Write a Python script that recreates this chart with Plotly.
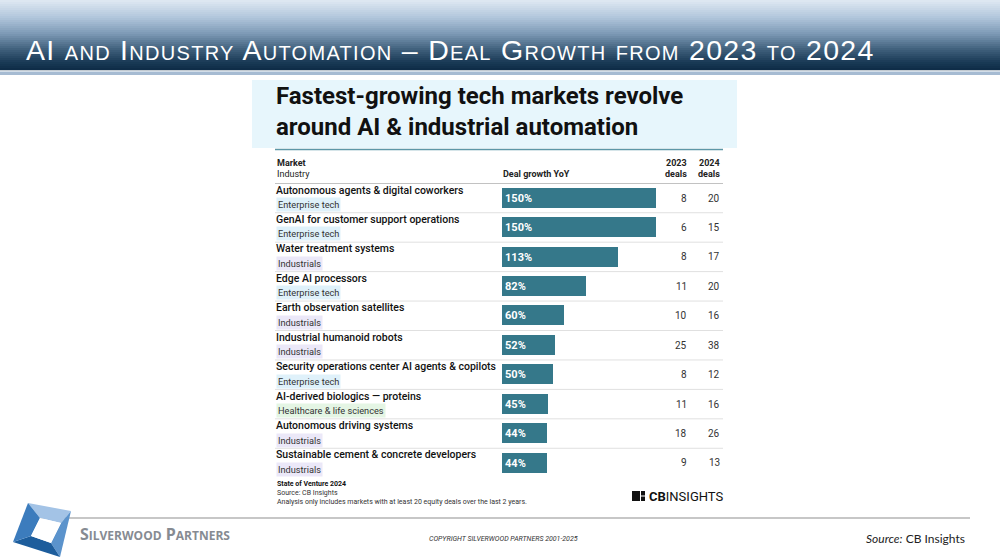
import plotly.graph_objects as go

W, H = 1000, 560

# ---------------- data ----------------
markets = [
    "Autonomous agents & digital coworkers",
    "GenAI for customer support operations",
    "Water treatment systems",
    "Edge AI processors",
    "Earth observation satellites",
    "Industrial humanoid robots",
    "Security operations center AI agents & copilots",
    "AI-derived biologics — proteins",
    "Autonomous driving systems",
    "Sustainable cement & concrete developers",
]
industries = [
    "Enterprise tech", "Enterprise tech", "Industrials", "Enterprise tech",
    "Industrials", "Industrials", "Enterprise tech", "Healthcare & life sciences",
    "Industrials", "Industrials",
]
growth_pct = [150, 150, 113, 82, 60, 52, 50, 45, 44, 44]
deals_2023 = [8, 6, 8, 11, 10, 25, 8, 11, 18, 9]
deals_2024 = [20, 15, 17, 20, 16, 38, 12, 16, 26, 13]

tag_colors = {
    "Enterprise tech": "#dff1fa",
    "Industrials": "#ebe8f8",
    "Healthcare & life sciences": "#e4f5e4",
}

def py(ypx):
    return 1 - ypx / H

def px(xpx):
    return xpx / W

n = len(markets)
rows = list(range(n))
row_top, row_bot = 183.3, 477.7

fig = go.Figure()
fig.add_trace(go.Bar(
    x=growth_pct, y=rows, orientation="h",
    marker=dict(color="#35788a", line=dict(width=0)),
    width=0.68,
    text=[f"{v}%" for v in growth_pct],
    textposition="inside", insidetextanchor="start",
    textfont=dict(family="Roboto", size=11, color="white", weight=700),
    hoverinfo="skip", cliponaxis=False,
))

shapes = []
annotations = []

# ---------------- header gradient ----------------
stops = [(0, (224, 233, 243)), (18, (176, 197, 219)), (34, (124, 153, 181)),
         (50, (62, 94, 122)), (62, (26, 59, 86)), (70, (14, 44, 70))]

def col_at(y):
    for (y0, c0), (y1, c1) in zip(stops[:-1], stops[1:]):
        if y0 <= y <= y1:
            t = (y - y0) / (y1 - y0)
            return "rgb(%d,%d,%d)" % tuple(int(c0[k] + (c1[k] - c0[k]) * t) for k in range(3))
    return "rgb(14,44,70)"

for y in range(0, 70, 2):
    shapes.append(dict(type="rect", xref="paper", yref="paper", x0=0, x1=1,
                       y0=py(y + 2.2), y1=py(y), fillcolor=col_at(y + 1),
                       line=dict(width=0), layer="below"))
shapes.append(dict(type="rect", xref="paper", yref="paper", x0=0, x1=1,
                   y0=py(75), y1=py(71.5), fillcolor="#a6bbd2", line=dict(width=0)))

big, small = 28.5, 20
def sc(first, rest):
    return f"{first}<span style='font-size:{small}px'>{rest}</span>"
title_html = (f"<span style='letter-spacing:1.3px'>AI <span style='font-size:{small}px'>AND</span> " +
              sc("I", "NDUSTRY") + " " +
              sc("A", "UTOMATION") + " – " + sc("D", "EAL") + " " + sc("G", "ROWTH") +
              f" <span style='font-size:{small}px'>FROM</span> 2023 "
              f"<span style='font-size:{small}px'>TO</span> 2024</span>")
annotations.append(dict(text=title_html, xref="paper", yref="paper", x=px(24), y=py(50),
                        xanchor="left", yanchor="middle", showarrow=False,
                        font=dict(family="Liberation Sans, Arial, sans-serif",
                                  size=big, color="white")))

# ---------------- chart panel ----------------
shapes.append(dict(type="rect", xref="paper", yref="paper", x0=px(252), x1=px(737),
                   y0=py(148), y1=py(80), fillcolor="#e7f6fc", line=dict(width=0), layer="below"))
annotations.append(dict(text="Fastest-growing tech markets revolve<br>around AI & industrial automation",
                        xref="paper", yref="paper", x=px(274), y=py(111.5), xanchor="left",
                        yanchor="middle", align="left", showarrow=False,
                        font=dict(family="Roboto", size=24, color="#111", weight=700)))
shapes.append(dict(type="line", xref="paper", yref="paper", x0=px(275), x1=px(723),
                   y0=py(149.5), y1=py(149.5), line=dict(color="#5d97a7", width=1.5)))

def txt(t, x, y, anchor="left", bold=False, size=9, color="#222", italic=False, family="Roboto"):
    annotations.append(dict(text=t, xref="paper", yref="paper", x=px(x), y=py(y),
                            xanchor=anchor, yanchor="middle", showarrow=False,
                            font=dict(family=family, size=size, color=color,
                                      weight=700 if bold else 400,
                                      style="italic" if italic else "normal")))

txt("Market", 275, 163, bold=True)
txt("Industry", 275, 174)
txt("Deal growth YoY", 501, 174, bold=True)
txt("2023", 689, 163, anchor="right", bold=True)
txt("deals", 689, 174, anchor="right", bold=True)
txt("2024", 722, 163, anchor="right", bold=True)
txt("deals", 722, 174, anchor="right", bold=True)

shapes.append(dict(type="line", xref="paper", yref="y", x0=px(275), x1=px(723),
                   y0=-0.5, y1=-0.5, line=dict(color="#9a9a9a", width=1)))
for i in rows[:-1]:
    shapes.append(dict(type="line", xref="paper", yref="y", x0=px(275), x1=px(723),
                       y0=i + 0.5, y1=i + 0.5, line=dict(color="#e0e0e0", width=1)))

for i in rows:
    annotations.append(dict(text=markets[i], xref="paper", yref="y", x=px(274), y=i,
                            yshift=8, xanchor="left", yanchor="middle", showarrow=False,
                            font=dict(family="Roboto", size=10.5, color="#111", weight=500)))
    annotations.append(dict(text=industries[i], xref="paper", yref="y", x=px(276), y=i,
                            yshift=-6.5, xanchor="left", yanchor="middle", showarrow=False,
                            bgcolor=tag_colors[industries[i]], borderpad=1,
                            font=dict(family="Roboto", size=9.2, color="#333")))
    annotations.append(dict(text=str(deals_2023[i]), xref="paper", yref="y", x=px(689), y=i,
                            xanchor="right", yanchor="middle", showarrow=False,
                            font=dict(family="Roboto", size=10, color="#333")))
    annotations.append(dict(text=str(deals_2024[i]), xref="paper", yref="y", x=px(722), y=i,
                            xanchor="right", yanchor="middle", showarrow=False,
                            font=dict(family="Roboto", size=10, color="#333")))

# ---------------- footnotes ----------------
txt("State of Venture 2024", 275, 484, bold=True, size=7, color="#111")
txt("Source: CB Insights", 275, 493, size=7, color="#333")
txt("Analysis only includes markets with at least 20 equity deals over the last 2 years.",
    275, 502, size=7, color="#333")

# CB Insights logo
shapes.append(dict(type="rect", xref="paper", yref="paper", x0=px(632), x1=px(640),
                   y0=py(501), y1=py(491), fillcolor="#111", line=dict(width=0)))
shapes.append(dict(type="rect", xref="paper", yref="paper", x0=px(641), x1=px(645),
                   y0=py(495.5), y1=py(491), fillcolor="#111", line=dict(width=0)))
shapes.append(dict(type="rect", xref="paper", yref="paper", x0=px(641), x1=px(645),
                   y0=py(501), y1=py(496.5), fillcolor="#111", line=dict(width=0)))
annotations.append(dict(text="<b>CB</b>INSIGHTS", xref="paper", yref="paper", x=px(647), y=py(496),
                        xanchor="left", yanchor="middle", showarrow=False,
                        font=dict(family="Roboto", size=13, color="#111")))

# ---------------- slide footer ----------------
shapes.append(dict(type="line", xref="paper", yref="paper", x0=px(40), x1=px(970),
                   y0=py(518), y1=py(518), line=dict(color="#b5b5b5", width=1.5)))

O = [(28, 503), (71, 511), (60, 557), (13, 542)]
I = [(40, 518), (61, 523), (51, 543), (31, 536)]
facet_cols = ["#a3c3e6", "#5b93cc", "#1d5d9c", "#3c7cbd"]
def path(pts):
    return "M " + " L ".join(f"{px(x)},{py(y)}" for x, y in pts) + " Z"
for k in range(4):
    pts = [O[k], O[(k + 1) % 4], I[(k + 1) % 4], I[k]]
    shapes.append(dict(type="path", xref="paper", yref="paper", path=path(pts),
                       fillcolor=facet_cols[k], line=dict(width=0)))
shapes.append(dict(type="path", xref="paper", yref="paper", path=path(I),
                   fillcolor="white", line=dict(width=0)))

annotations.append(dict(text="S<span style='font-size:12px'>ILVERWOOD</span> P<span style='font-size:12px'>ARTNERS</span>",
                        xref="paper", yref="paper", x=px(78), y=py(534), xanchor="left",
                        yanchor="middle", showarrow=False,
                        font=dict(family="Open Sans", size=16, color="#868b92", weight=700)))
txt("COPYRIGHT SILVERWOOD PARTNERS 2001-2025", 503, 539, anchor="center", size=7,
    color="#333", italic=True, family="Liberation Sans Narrow, Arial Narrow, Roboto")
annotations.append(dict(text="<i>Source:</i> CB Insights", xref="paper", yref="paper",
                        x=px(967), y=py(538), xanchor="right", yanchor="middle",
                        showarrow=False, font=dict(family="Lato", size=12, color="#222")))

fig.update_layout(
    width=W, height=H, margin=dict(l=0, r=0, t=0, b=0),
    paper_bgcolor="white", plot_bgcolor="rgba(0,0,0,0)",
    showlegend=False, shapes=shapes, annotations=annotations,
    xaxis=dict(domain=[0.502, 0.656], range=[0, 150], visible=False, fixedrange=True),
    yaxis=dict(domain=[py(row_bot), py(row_top)], range=[n - 0.5, -0.5], visible=False,
               fixedrange=True),
    bargap=0,
)

fig.write_html("out.html", config={"displayModeBar": False},
               post_script="document.body.style.margin='0';document.body.style.overflow='hidden';")
